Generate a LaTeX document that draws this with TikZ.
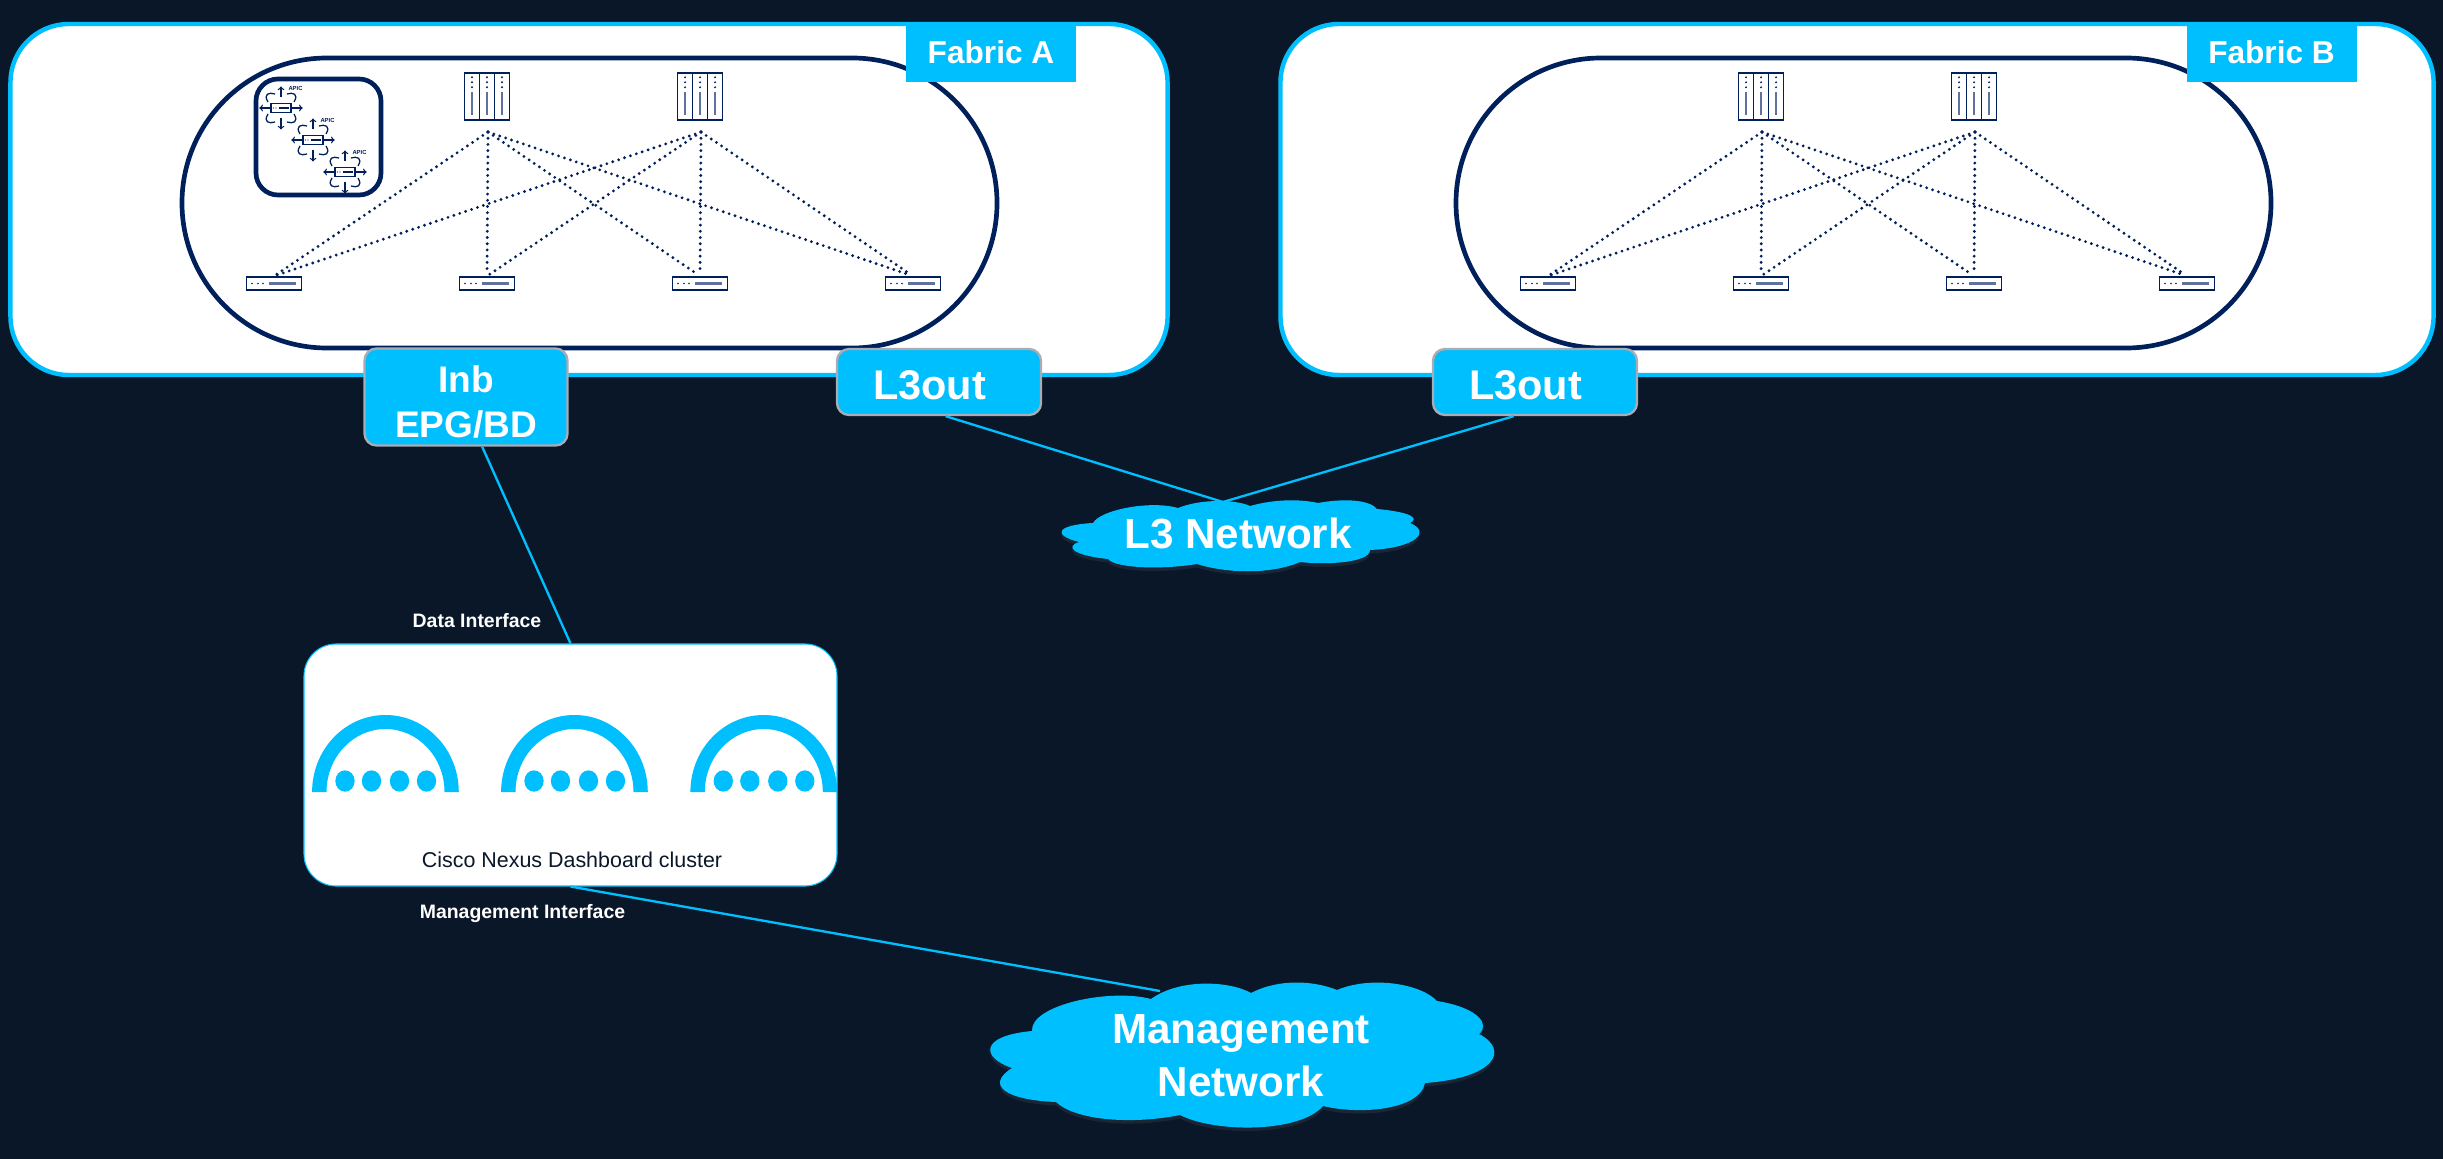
\documentclass[tikz,border=0pt]{standalone}
\usepackage{fontspec}
\setmainfont{Liberation Sans}
\usetikzlibrary{shadows}
\definecolor{bgnavy}{HTML}{0A1729}
\definecolor{skyblue}{HTML}{00BFFF}
\definecolor{fabnavy}{HTML}{00205B}
\definecolor{iconbar}{HTML}{5F719C}
\definecolor{tagborder}{HTML}{A9ACB3}
\tikzset{
    fabricbox/.style={draw=skyblue, fill=white, line width=3.8pt, rounded corners=1.75cm, minimum height=10.53cm},
    podbox/.style={draw=fabnavy, line width=4pt, rounded corners=4.35cm, minimum width=24.45cm, minimum height=8.7cm},
    fabrictab/.style={fill=skyblue, text=white, inner sep=0pt, minimum width=5.1cm, minimum height=1.8cm, font=\fontsize{27pt}{30pt}\selectfont\bfseries},
    apicbox/.style={draw=fabnavy, line width=4pt, rounded corners=0.66cm, minimum width=3.75cm, minimum height=3.48cm},
    iconline/.style={draw=fabnavy, line width=1.6pt},
    spinebox/.style={iconline, minimum width=1.35cm, minimum height=1.41cm, inner sep=0pt},
    leafbox/.style={iconline, fill=white, minimum width=1.65cm, minimum height=0.39cm, inner sep=0pt},
    apicnode/.style={iconline, line width=1.2pt, minimum width=0.6cm, minimum height=0.27cm, inner sep=0pt},
    apicarm/.style={draw=fabnavy, line width=1.1pt},
    fablink/.style={draw=fabnavy, line width=2.7pt, line cap=round, dash pattern=on 0pt off 5.3pt, shorten >=2pt},
    tagbox/.style={draw=tagborder, fill=skyblue, text=white, line width=2pt, rounded corners=0.36cm, align=center, inner sep=0pt, font=\bfseries},
    wire/.style={draw=skyblue, line width=2pt},
    cloudshape/.style={fill=skyblue, drop shadow={shadow xshift=0pt, shadow yshift=-3pt, opacity=0.15}},
    cloudtext/.style={text=white, align=center, inner sep=0pt, font=\fontsize{36pt}{45pt}\selectfont\bfseries},
    linklabel/.style={text=white, anchor=base, inner sep=0pt, font=\fontsize{16.6pt}{20pt}\selectfont\bfseries},
    clusterbox/.style={draw=skyblue, fill=white, line width=0.9pt, rounded corners=0.96cm, minimum width=15.99cm, minimum height=7.26cm},
}
\begin{document}
\begin{tikzpicture}[x=0.03cm, y=-0.03cm]
    % Background
    \fill[bgnavy] (0,0) rectangle (2443,1159);

    % Fabrics
    \foreach \fab/\dx/\fx/\fw/\tx in {A/0/589/34.71cm/991, B/1274/1857/34.59cm/2271.5} {
        \node[fabricbox, minimum width=\fw] (fabric\fab) at (\fx,199.5) {};
        \node[podbox] (pod\fab) at (589.5+\dx,203) {};
        \node[fabrictab] (tab\fab) at (\tx,52) {Fabric \fab};

        % Spines
        \foreach \i/\sx in {1/487, 2/700} {
            \node[spinebox] (sp\fab\i) at (\sx+\dx,96.7) {};
            \coordinate (tp\fab\i) at (\sx+1+\dx,132);
            \draw[iconline] (\sx-7.5+\dx,73.3) -- (\sx-7.5+\dx,120) (\sx+7.5+\dx,73.3) -- (\sx+7.5+\dx,120);
            \foreach \c in {-15,0,15} {
                \fill[fabnavy] (\sx+\c+\dx,77.3) circle (0.9pt) (\sx+\c+\dx,82.3) circle (0.9pt) (\sx+\c+\dx,87.3) circle (0.9pt);
                \fill[iconbar] (\sx+\c-1.3+\dx,91.7) rectangle (\sx+\c+1.3+\dx,115);
            }
        }

        % Leaves
        \foreach \i/\lx in {1/274, 2/487, 3/700, 4/913} {
            \node[leafbox] (lf\fab\i) at (\lx+\dx,283.5) {};
            \foreach \c in {-22,-16,-11} {
                \fill[fabnavy] (\lx+\c+\dx,283.5) circle (0.8pt);
            }
            \fill[iconbar] (\lx-5+\dx,282) rectangle (\lx+22+\dx,285);
        }

        % Fabric links
        \foreach \s in {1,2} {
            \foreach \l in {1,2,3,4} {
                \draw[fablink] (tp\fab\s) -- (lf\fab\l.north);
            }
        }
    }

    % APIC cluster
    \node[apicbox] (apicgroup) at (318.5,137) {};
    \foreach \n/\ax/\ay in {1/281/108, 2/313/140, 3/345/172} {
        \node[apicnode] (apic\n) at (\ax,\ay) {};
        \fill[fabnavy] (\ax-7.5,\ay) circle (0.5pt) (\ax-5,\ay) circle (0.5pt);
        \draw[apicarm] (\ax-2.5,\ay) -- (\ax+7.5,\ay);
        \draw[apicarm, ->] (apic\n.west) -- ++(-11,0);
        \draw[apicarm, ->] (apic\n.east) -- ++(11,0);
        \draw[apicarm, ->] (\ax,\ay-10.5) -- ++(0,-11);
        \draw[apicarm, ->] (\ax,\ay+10.5) -- ++(0,11);
        \foreach \sx/\sy in {1/1, 1/-1, -1/1, -1/-1} {
            \draw[apicarm] (\ax+\sx*13,\ay+\sy*6) .. controls (\ax+\sx*18,\ay+\sy*14) and (\ax+\sx*12,\ay+\sy*16) .. (\ax+\sx*6,\ay+\sy*14);
        }
        \node[text=fabnavy, inner sep=0pt, font=\fontsize{5pt}{6pt}\selectfont\bfseries] (apiclabel\n) at (\ax+14.5,\ay-19.7) {APIC};
    }

    % Named ends on the clouds
    \coordinate (l3top) at (1223,502);
    \coordinate (mgmttop) at (1160,991);

    % Cluster
    \node[clusterbox] (cluster) at (570.5,765) {};
    \foreach \n/\cx in {1/385.5, 2/574.5, 3/763.8} {
        \fill[skyblue] (\cx-73.4,792) arc[start angle=180, end angle=0, x radius=2.2cm, y radius=2.31cm]
            -- (\cx+59,792) arc[start angle=0, end angle=180, x radius=1.77cm, y radius=1.89cm] -- cycle;
        \foreach \c in {-40.5,-14,14,41} {
            \fill[skyblue] (\cx+\c,781) ellipse [x radius=0.29cm, y radius=0.32cm];
        }
    }
    \node[anchor=base, inner sep=0pt, text=bgnavy, font=\fontsize{18.3pt}{20pt}\selectfont] (clusterlabel) at (572,867) {Cisco Nexus Dashboard cluster};

    % Tags on the fabric edge
    \node[tagbox, minimum width=6.09cm, minimum height=2.91cm, font=\fontsize{31.6pt}{38.4pt}\selectfont\bfseries] (inb) at (466,397) {\rule{0pt}{32pt}Inb\\EPG/BD};
    \node[tagbox, minimum width=6.12cm, minimum height=1.98cm, font=\fontsize{35.4pt}{40pt}\selectfont\bfseries] (l3outA) at (939,382) {\rule{0pt}{31pt}L3out\hspace{16pt}};
    \node[tagbox, minimum width=6.12cm, minimum height=1.98cm, font=\fontsize{35.4pt}{40pt}\selectfont\bfseries] (l3outB) at (1535,382) {\rule{0pt}{31pt}L3out\hspace{16pt}};

    % Connectors
    \draw[wire] (inb.-72) -- (cluster.north);
    \draw[wire] (l3outA.-79) -- (l3top);
    \draw[wire] (l3outB.-122) -- (l3top);
    \draw[wire] (cluster.south) -- (mgmttop);

    % Link labels
    \node[linklabel] (datalabel) at (477,627) {Data Interface};
    \node[linklabel] (mgmtlabel) at (522.5,918) {Management Interface};

    % L3 cloud
    \fill[cloudshape] (1093,523) .. controls (1100,510) and (1150,500) .. (1178,508)
        .. controls (1200,499) and (1235,499) .. (1250,506)
        .. controls (1275,499) and (1300,499) .. (1318,503)
        .. controls (1345,498) and (1370,500) .. (1377,509)
        .. controls (1410,512) and (1420,518) .. (1410,523)
        .. controls (1432,532) and (1415,548) .. (1370,550)
        .. controls (1370,563) and (1325,565) .. (1300,562)
        .. controls (1270,575) and (1225,573) .. (1197,564)
        .. controls (1160,570) and (1115,568) .. (1108,559)
        .. controls (1070,555) and (1066,546) .. (1079,542)
        .. controls (1052,535) and (1056,525) .. (1093,523) -- cycle;
    \node[cloudtext, anchor=base] (l3net) at (1238,548) {L3 Network};

    % Management cloud
    \fill[cloudshape] (1032,1031) .. controls (1030,1005) and (1110,988) .. (1151,999)
        .. controls (1180,978) and (1230,981) .. (1251,993)
        .. controls (1280,978) and (1315,981) .. (1337,990)
        .. controls (1370,976) and (1420,983) .. (1437,1001)
        .. controls (1480,1008) and (1490,1025) .. (1479,1034)
        .. controls (1510,1050) and (1495,1078) .. (1425,1083)
        .. controls (1420,1110) and (1360,1115) .. (1323,1106)
        .. controls (1300,1133) and (1215,1133) .. (1180,1115)
        .. controls (1130,1125) and (1075,1120) .. (1056,1102)
        .. controls (1005,1100) and (985,1085) .. (1012,1068)
        .. controls (982,1058) and (978,1036) .. (1032,1031) -- cycle;
    \node[cloudtext] (mgmtnet) at (1241,1056) {Management\\Network};
\end{tikzpicture}
\end{document}
